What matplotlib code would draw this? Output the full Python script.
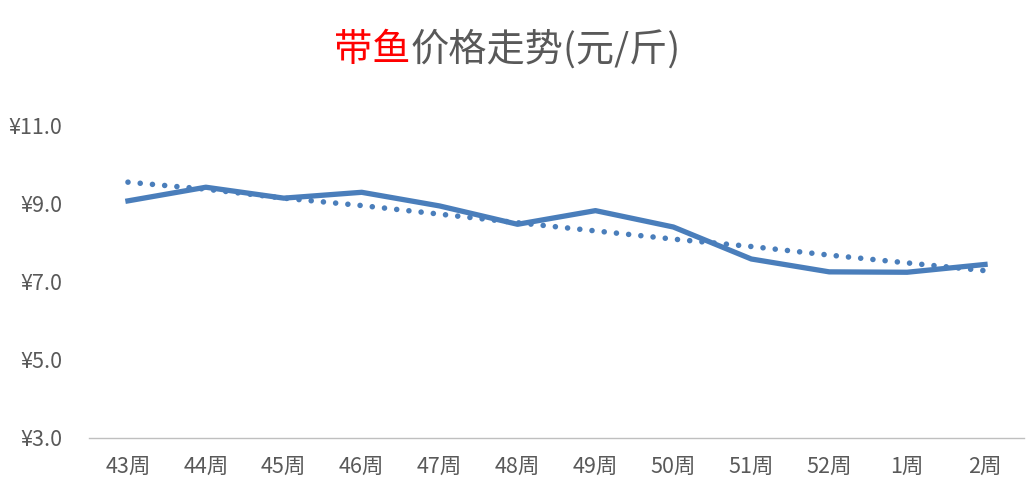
import matplotlib
matplotlib.use('Agg')
import matplotlib.pyplot as plt
from matplotlib.ticker import FuncFormatter

plt.rcParams['font.family'] = ['Noto Sans CJK SC', 'DejaVu Sans']

# 数据
weeks = ['43周', '44周', '45周', '46周', '47周', '48周', '49周', '50周', '51周', '52周', '1周', '2周']
price = [9.08, 9.43, 9.15, 9.30, 8.95, 8.48, 8.83, 8.41, 7.59, 7.26, 7.25, 7.45]
trend = [9.56, 9.38, 9.15, 8.96, 8.74, 8.52, 8.31, 8.10, 7.91, 7.69, 7.49, 7.29]
yticks = [3, 5, 7, 9, 11]

blue = '#4a7ebb'
gray = '#595959'

fig = plt.figure(figsize=(10.36, 5.0), dpi=100)
ax = fig.add_axes([89 / 1036, 62 / 500, (1024 - 89) / 1036, 312 / 500])

x = list(range(len(weeks)))
ax.plot(x, price, color=blue, lw=3.8, solid_joinstyle='round', zorder=3)
ax.plot(x, trend, color=blue, lw=4.0, linestyle=(0, (0.01, 2.2)),
        dash_capstyle='round', zorder=2)

ax.set_xlim(-0.5, len(weeks) - 0.5)
ax.set_ylim(3, 11)
ax.set_yticks(yticks)
ax.yaxis.set_major_formatter(FuncFormatter(lambda v, p: '¥{:.1f}'.format(v)))
ax.set_xticks(x)
ax.set_xticklabels(weeks)

for s in ['top', 'right', 'left']:
    ax.spines[s].set_visible(False)
ax.spines['bottom'].set_color('#bfbfbf')
ax.spines['bottom'].set_linewidth(1.0)
ax.tick_params(axis='both', length=0, colors=gray, labelsize=15.5)
ax.tick_params(axis='y', pad=19)
ax.tick_params(axis='x', pad=13)

# 标题: "带鱼" 红色, 其余灰色
fs = 27.5
ty = 1 - 50 / 500
renderer = fig.canvas.get_renderer()
t1 = fig.text(0, ty, '带鱼', color='red', fontsize=fs, va='center')
t2 = fig.text(0, ty, '价格走势(元/斤)', color=gray, fontsize=fs, va='center')
w1 = t1.get_window_extent(renderer).width / fig.bbox.width
w2 = t2.get_window_extent(renderer).width / fig.bbox.width
x0 = 507 / 1036 - (w1 + w2) / 2
t1.set_x(x0)
t2.set_x(x0 + w1)

fig.savefig('out.png', dpi=100, facecolor='white')
